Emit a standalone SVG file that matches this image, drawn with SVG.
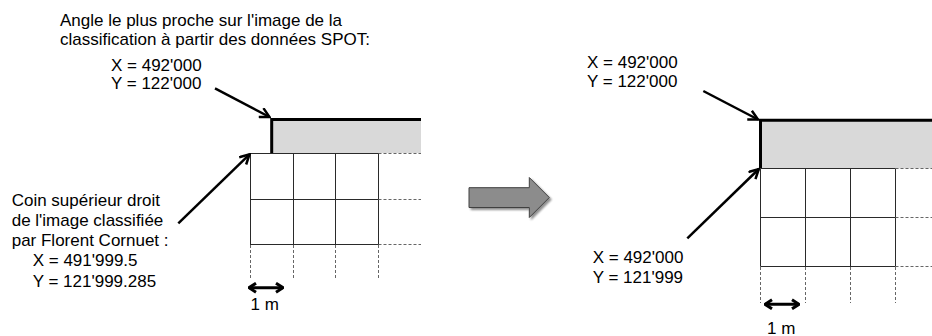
<svg xmlns="http://www.w3.org/2000/svg" width="932" height="336" viewBox="0 0 932 336">
  <style>
    text { font-family: "Liberation Sans", Arial, sans-serif; font-size: 17px; fill: #000; }
    .band { fill: #d9d9d9; stroke: none; }
    .edge { fill: none; stroke: #000; stroke-width: 3; }
    .grid { fill: none; stroke: #2a2a2a; stroke-width: 1; }
    .dash { fill: none; stroke: #666; stroke-width: 1; stroke-dasharray: 3 2; }
    .pointer { fill: none; stroke: #000; stroke-width: 2.5; marker-end: url(#tip); }
    .span { fill: none; stroke: #000; stroke-width: 3; marker-start: url(#tip2); marker-end: url(#tip2); }
  </style>
  <defs>
    <marker id="tip" viewBox="0 0 12 12" refX="10.5" refY="6" markerWidth="12" markerHeight="12" markerUnits="userSpaceOnUse" orient="auto">
      <path d="M1,1 L10.5,6 L1,11" fill="none" stroke="#000" stroke-width="2.5"/>
    </marker>
    <marker id="tip2" viewBox="0 0 10 12" refX="9" refY="6" markerWidth="10" markerHeight="12" markerUnits="userSpaceOnUse" orient="auto-start-reverse">
      <path d="M2,1.5 L9,6 L2,10.5" fill="none" stroke="#000" stroke-width="3"/>
    </marker>
    <filter id="shadow" x="-20%" y="-30%" width="150%" height="170%">
      <feGaussianBlur in="SourceAlpha" stdDeviation="1.2"/>
      <feOffset dx="1.5" dy="2" result="b"/>
      <feComponentTransfer><feFuncA type="linear" slope="0.45"/></feComponentTransfer>
      <feMerge><feMergeNode/><feMergeNode in="SourceGraphic"/></feMerge>
    </filter>
  </defs>

  <!-- Left: SPOT classification tile over the classified image grid -->
  <g id="spot-tile-left">
    <rect class="band" x="271" y="119" width="150" height="34"/>
    <path class="edge" d="M271.7,153 V119.5 H421"/>
  </g>
  <g id="grid-left">
    <rect class="grid" x="250.5" y="153.5" width="128" height="91"/>
    <path class="grid" d="M293.5,153.5 V244.5 M335.5,153.5 V244.5 M250.5,199.5 H378.5"/>
    <path class="dash" d="M378.5,153.5 H421 M378.5,199.5 H421 M378.5,244.5 H421"/>
    <path class="dash" d="M250.5,245 V279 M293.5,245 V279 M335.5,245 V279 M378.5,245 V279"/>
  </g>

  <!-- Transition arrow -->
  <g id="transition">
    <path d="M469,187.7 H529.3 V177.5 L549.3,197.5 L529.3,217.5 V207.5 H469 Z" fill="#8c8c8c" stroke="#404040" stroke-width="1" filter="url(#shadow)"/>
  </g>

  <!-- Right: corrected grid aligned with the tile -->
  <g id="spot-tile-right">
    <rect class="band" x="760" y="120" width="172" height="48.5"/>
    <path class="edge" d="M760.5,168.5 V120.3 H932"/>
  </g>
  <g id="grid-right">
    <path class="grid" d="M760.5,168.5 H895.5 V266.5 H760.5 Z M805.5,168.5 V266.5 M850.5,168.5 V266.5 M760.5,217.5 H895.5"/>
    <path class="dash" d="M895.5,168.5 H932 M895.5,217.5 H932 M895.5,266.5 H932"/>
    <path class="dash" d="M760.5,267 V303 M805.5,267 V303 M850.5,267 V303 M895.5,267 V303"/>
  </g>

  <!-- Labels -->
  <g id="label-spot-left">
    <text x="60" y="25.5">Angle le plus proche sur l'image de la</text>
    <text x="60" y="44.5">classification à partir des données SPOT:</text>
    <text x="111" y="70.5">X = 492'000</text>
    <text x="111" y="88.5">Y = 122'000</text>
  </g>
  <g id="label-corner-left">
    <text x="11.7" y="206">Coin supérieur droit</text>
    <text x="11.7" y="226">de l'image classifiée</text>
    <text x="11.7" y="246">par Florent Cornuet :</text>
    <text x="32.7" y="266">X = 491'999.5</text>
    <text x="32.7" y="286.5">Y = 121'999.285</text>
  </g>
  <g id="label-scale-left">
    <text x="250.5" y="310">1 m</text>
  </g>
  <g id="label-spot-right">
    <text x="587" y="68.3">X = 492'000</text>
    <text x="587" y="87.3">Y = 122'000</text>
  </g>
  <g id="label-corner-right">
    <text x="592.7" y="262.7">X = 492'000</text>
    <text x="592.7" y="282.7">Y = 121'999</text>
  </g>
  <g id="label-scale-right">
    <text x="767" y="333.5">1 m</text>
  </g>

  <!-- Connectors -->
  <g id="connectors">
    <line class="pointer" x1="215" y1="88.3" x2="269.5" y2="117"/>
    <line class="pointer" x1="178.3" y1="223.3" x2="249.5" y2="154.3"/>
    <line class="pointer" x1="703.3" y1="91" x2="758" y2="119.5"/>
    <line class="pointer" x1="687.3" y1="238.3" x2="758.8" y2="169"/>
    <line class="span" x1="249" y1="287.7" x2="283" y2="287.7"/>
    <line class="span" x1="765" y1="304.3" x2="799" y2="304.3"/>
  </g>
</svg>
